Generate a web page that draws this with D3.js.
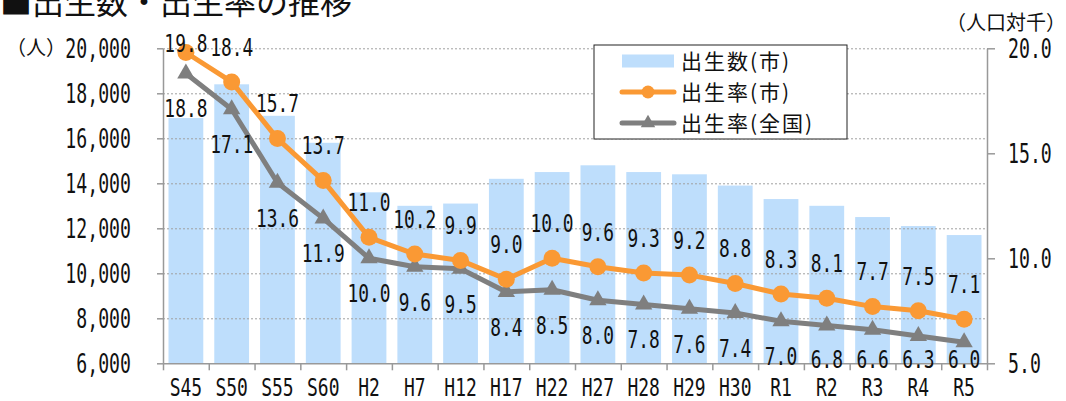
<!DOCTYPE html>
<html>
<head>
<meta charset="utf-8">
<script src="https://cdn.jsdelivr.net/npm/d3@7"></script>
<style>
  html, body { margin: 0; padding: 0; background: #fff; }
  svg { display: block; }
</style>
</head>
<body>
<svg id="chart" width="1066" height="401"></svg>
<script>
// data
const categories = ["S45","S50","S55","S60","H2","H7","H12","H17","H22","H27","H28","H29","H30","R1","R2","R3","R4","R5"];
const birthsCity = [16900,18400,17000,15800,13600,13000,13100,14200,14500,14800,14500,14400,13900,13300,13000,12500,12100,11700];
const rateCity   = [19.8,18.4,15.7,13.7,11.0,10.2,9.9,9.0,10.0,9.6,9.3,9.2,8.8,8.3,8.1,7.7,7.5,7.1];
const rateNation = [18.8,17.1,13.6,11.9,10.0,9.6,9.5,8.4,8.5,8.0,7.8,7.6,7.4,7.0,6.8,6.6,6.3,6.0];
const leftTicks  = [6000,8000,10000,12000,14000,16000,18000,20000];
const rightTicks = [5,10,15,20];
const legendLabels = ["出生数(市)","出生率(市)","出生率(全国)"];

const BAR = "#bedefc", ORANGE = "#fa9934", GRAY = "#7f7f7f", AXIS = "#999999";
const NUMFONT = "'DejaVu Sans Mono', monospace";
const JPFONT = "'Noto Sans CJK JP', sans-serif";

var svg = d3.select("#chart");
// plot box (note: "top" is a window global, so other names here)
var pL = 163, pR = 987, pT = 48.3, pB = 363.3;

var x = d3.scaleBand().domain(categories).range([pL, pR]).paddingInner(0.24).paddingOuter(0.12);
var xEdge = d3.scaleLinear().domain([0, categories.length]).range([pL, pR]);
var yL = d3.scaleLinear().domain([6000, 20000]).range([pB, pT]);
var yR = d3.scaleLinear().domain([5, 20]).range([pB, pT]);
var cx = function(i) { return x(categories[i]) + x.bandwidth() / 2; };

// title, cut off at the top like the original
svg.append("text")
  .attr("x", 0).attr("y", 14)
  .attr("font-family", JPFONT).attr("font-size", 32)
  .attr("fill", "#111")
  .text("■出生数・出生率の推移");

svg.append("text")
  .attr("x", 6).attr("y", 48).attr("dy", "0.36em")
  .attr("font-family", JPFONT).attr("font-size", 20).attr("fill", "#111")
  .text("（人）");
svg.append("text")
  .attr("x", 1066).attr("y", 23).attr("dy", "0.36em")
  .attr("text-anchor", "end")
  .attr("font-family", JPFONT).attr("font-size", 20).attr("fill", "#111")
  .text("（人口対千）");

// bars
svg.append("g").selectAll("rect")
  .data(birthsCity)
  .enter().append("rect")
  .attr("x", function(d, i) { return x(categories[i]); })
  .attr("y", function(d) { return yL(d); })
  .attr("width", x.bandwidth())
  .attr("height", function(d) { return pB - yL(d); })
  .attr("fill", BAR);

// dotted gridlines
var grid = svg.append("g")
  .attr("transform", "translate(" + pL + ",0)")
  .call(d3.axisLeft(yL).tickValues(leftTicks.slice(1)).tickSize(-(pR - pL)).tickFormat(""));
grid.select(".domain").remove();
grid.selectAll("line").attr("stroke", "#a0a0a0").attr("stroke-dasharray", "2,2");

// axes
function styleAxis(g) {
  g.selectAll(".domain").attr("stroke", AXIS).attr("stroke-width", 1.5);
  g.selectAll(".tick line").attr("stroke", AXIS).attr("stroke-width", 1.5);
}
var gl = svg.append("g")
  .attr("transform", "translate(" + pL + ",0)")
  .call(d3.axisLeft(yL).tickValues(leftTicks).tickSize(6).tickSizeOuter(0).tickFormat(d3.format(",")));
styleAxis(gl);
gl.selectAll("text")
  .attr("x", -32 / 0.7).attr("dy", "0.36em")
  .attr("transform", "scale(0.7,1)")
  .attr("font-family", NUMFONT).attr("font-size", 26).attr("fill", "#111");

var gr = svg.append("g")
  .attr("transform", "translate(" + pR + ",0)")
  .call(d3.axisRight(yR).tickValues(rightTicks).tickSize(8).tickSizeOuter(0).tickFormat(d3.format(".1f")));
styleAxis(gr);
gr.selectAll("text")
  .attr("x", 21 / 0.7).attr("dy", "0.36em")
  .attr("transform", "scale(0.7,1)")
  .attr("font-family", NUMFONT).attr("font-size", 26).attr("fill", "#111");

var gb = svg.append("g")
  .attr("transform", "translate(0," + pB + ")")
  .call(d3.axisBottom(xEdge).tickValues(d3.range(categories.length + 1)).tickSize(7).tickSizeOuter(0).tickFormat(""));
styleAxis(gb);

var gbl = svg.append("g")
  .attr("transform", "translate(0," + pB + ")")
  .call(d3.axisBottom(x).tickSize(0));
gbl.select(".domain").remove();
gbl.selectAll("text")
  .attr("y", 24).attr("dy", "0.36em")
  .attr("transform", "scale(0.72,1)")
  .attr("font-family", NUMFONT).attr("font-size", 25).attr("fill", "#111");
// scale() is about the tick origin, which is already the band centre

// lines + markers
var line = function(vals) {
  return d3.line().x(function(d, i) { return cx(i); }).y(function(d) { return yR(d); })(vals);
};
svg.append("path").attr("d", line(rateNation))
  .attr("fill", "none").attr("stroke", GRAY).attr("stroke-width", 5).attr("stroke-linejoin", "round");
svg.append("g").selectAll("path")
  .data(rateNation).enter().append("path")
  .attr("d", d3.symbol().type(d3.symbolTriangle).size(130))
  .attr("transform", function(d, i) { return "translate(" + cx(i) + "," + yR(d) + ")"; })
  .attr("fill", GRAY);

svg.append("path").attr("d", line(rateCity))
  .attr("fill", "none").attr("stroke", ORANGE).attr("stroke-width", 5).attr("stroke-linejoin", "round");
svg.append("g").selectAll("circle")
  .data(rateCity).enter().append("circle")
  .attr("cx", function(d, i) { return cx(i); })
  .attr("cy", function(d) { return yR(d); })
  .attr("r", 8.5)
  .attr("fill", ORANGE);

// data labels
function labels(vals, off, lo, hi) {
  svg.append("g").selectAll("text")
    .data(vals).enter().append("text")
    .attr("transform", function(d, i) {
      var yy = Math.min(hi, Math.max(lo, yR(d) + off));
      return "translate(" + cx(i) + "," + yy + ") scale(0.73,1)";
    })
    .attr("dy", "0.36em")
    .attr("text-anchor", "middle")
    .attr("font-family", NUMFONT).attr("font-size", 24.5).attr("fill", "#111")
    .text(function(d) { return d.toFixed(1); });
}
labels(rateCity, -35, 43, 400);
labels(rateNation, 35, 0, 359);

// legend
var lg = svg.append("g");
lg.append("rect").attr("x", 594).attr("y", 45).attr("width", 253).attr("height", 94)
  .attr("fill", "#fff").attr("stroke", "#222").attr("stroke-width", 1);
var ly = [61, 92, 123];
lg.append("rect").attr("x", 622).attr("y", ly[0] - 6.5).attr("width", 52).attr("height", 13).attr("fill", BAR);
lg.append("line").attr("x1", 622).attr("x2", 674).attr("y1", ly[1]).attr("y2", ly[1])
  .attr("stroke", ORANGE).attr("stroke-width", 5).attr("stroke-linecap", "round");
lg.append("circle").attr("cx", 648).attr("cy", ly[1]).attr("r", 6.5).attr("fill", ORANGE);
lg.append("line").attr("x1", 622).attr("x2", 674).attr("y1", ly[2]).attr("y2", ly[2])
  .attr("stroke", GRAY).attr("stroke-width", 5).attr("stroke-linecap", "round");
lg.append("path").attr("d", d3.symbol().type(d3.symbolTriangle).size(90))
  .attr("transform", "translate(648," + ly[2] + ")").attr("fill", GRAY);
lg.selectAll("text.lbl")
  .data(legendLabels).enter().append("text")
  .attr("class", "lbl")
  .attr("x", 681).attr("y", function(d, i) { return ly[i]; }).attr("dy", "0.36em")
  .attr("font-family", JPFONT).attr("font-size", 21).attr("letter-spacing", 2)
  .attr("fill", "#111")
  .text(function(d) { return d; });
</script>
</body>
</html>
